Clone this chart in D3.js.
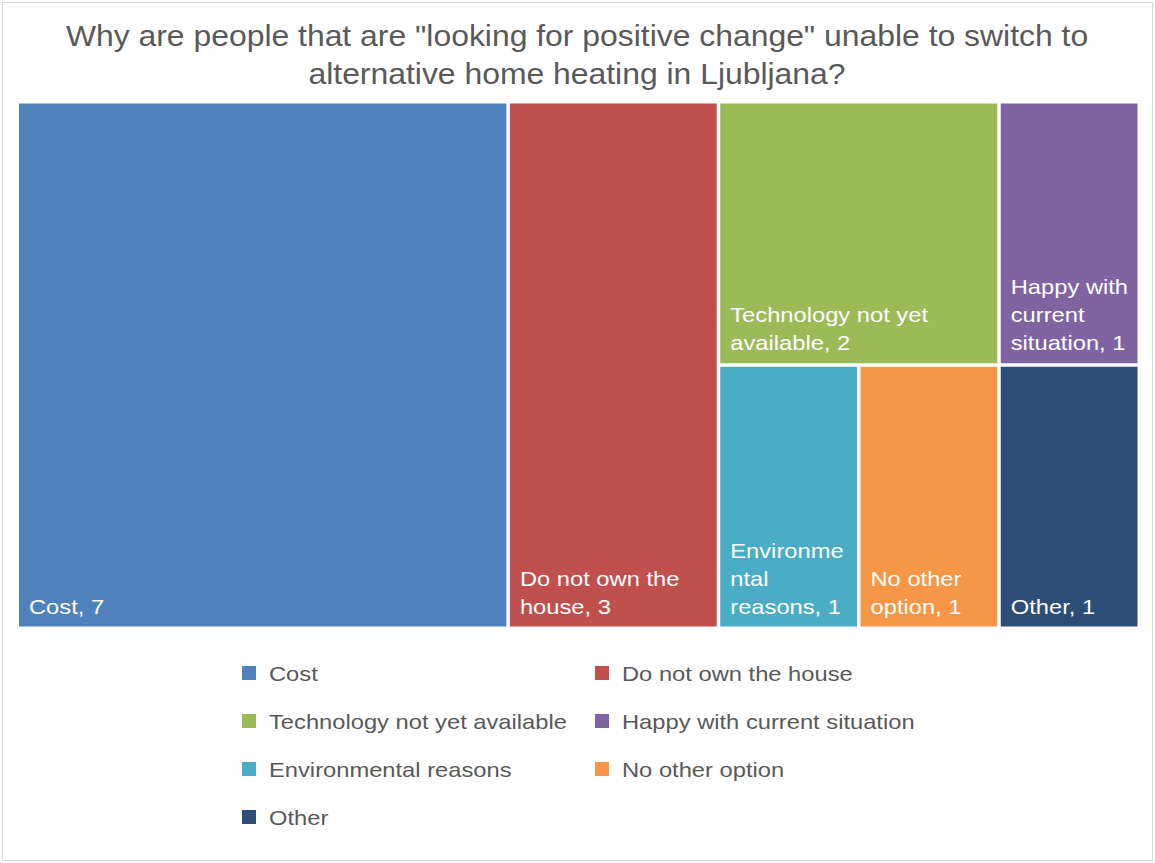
<html>

<head>
    <meta charset="UTF-8">
    <title>Treemap</title>
    <style>
        body {
            margin: 0;
            background: #fff;
        }

        svg text {
            font-family: "Liberation Sans", Arial, sans-serif;
        }

        .title {
            font-size: 29px;
            fill: #595959;
        }

        .tile text {
            font-size: 21px;
            fill: #fff;
        }

        .legend text {
            font-size: 21px;
            fill: #595959;
        }
    </style>
    <script src="https://d3js.org/d3.v7.min.js"></script>
</head>

<body>
    <script type="text/javascript">
        // data
        const categories = ['Cost', 'Do not own the house', 'Technology not yet available',
            'Happy with current situation', 'Environmental reasons', 'No other option', 'Other']
        const values = [7, 3, 2, 1, 1, 1, 1]
        const colors = ['#4F81BD', '#C0504D', '#9BBB59', '#8064A2', '#4BACC6', '#F79646', '#2C4D75']
        // how the tiles are grouped (columns, then rows inside the last column)
        const groups = [[0], [1], [[2, 3], [4, 5, 6]]]
        const titleLines = ['Why are people that are "looking for positive change" unable to switch to',
            'alternative home heating in Ljubljana?']

        const W = 1155, H = 863
        const plot = { x0: 19, y0: 103.5, x1: 1137.5, y1: 626.5 }
        const stretch = 1.13      // text in the original is a bit wider than Arial
        const titleStretch = 1.10

        const svg = d3.select('body').append('svg')
            .attr('width', W)
            .attr('height', H)

        svg.append('rect')
            .attr('x', 2.5).attr('y', 2.5)
            .attr('width', W - 5).attr('height', H - 5)
            .attr('fill', '#fff')
            .attr('stroke', '#d9d9d9')

        svg.append('text')
            .attr('class', 'title')
            .attr('text-anchor', 'middle')
            .attr('transform', 'translate(577,0) scale(' + titleStretch + ',1)')
            .selectAll('tspan')
            .data(titleLines)
            .enter().append('tspan')
            .attr('x', 0)
            .attr('y', (d, i) => 46 + i * 38)
            .text(d => d)

        // build nested hierarchy from groups
        function build(g) {
            if (typeof g === 'number') return { name: categories[g], value: values[g], idx: g }
            return { children: g.map(build) }
        }
        const root = d3.hierarchy(build(groups))
            .sum(d => d.value || 0)

        d3.treemap()
            .size([plot.x1 - plot.x0, plot.y1 - plot.y0])
            .paddingInner(3.5)
            .tile((node, x0, y0, x1, y1) =>
                (node.depth % 2 === 0 ? d3.treemapDice : d3.treemapSlice)(node, x0, y0, x1, y1))
            (root)

        const g = svg.append('g')
            .attr('transform', 'translate(' + plot.x0 + ',' + plot.y0 + ')')

        const leaves = g.selectAll('g.tile')
            .data(root.leaves())
            .enter().append('g')
            .attr('class', 'tile')

        leaves.append('rect')
            .attr('x', d => d.x0)
            .attr('y', d => d.y0)
            .attr('width', d => d.x1 - d.x0)
            .attr('height', d => d.y1 - d.y0)
            .attr('fill', d => colors[d.data.idx])

        // measure + wrap
        const measure = svg.append('text').attr('class', 'tile').style('font-size', '21px')
        function textW(s) {
            measure.text(s)
            return measure.node().getComputedTextLength() * stretch
        }
        function wrap(label, maxW) {
            const words = label.split(' ')
            const lines = []
            let cur = ''
            words.forEach(w => {
                const test = cur ? cur + ' ' + w : w
                if (textW(test) <= maxW) { cur = test; return }
                if (cur) lines.push(cur)
                // break long words by character
                let piece = ''
                for (const ch of w) {
                    if (textW(piece + ch) > maxW && piece) { lines.push(piece); piece = ch }
                    else piece += ch
                }
                cur = piece
            })
            if (cur) lines.push(cur)
            return lines
        }

        leaves.each(function (d) {
            const lines = wrap(d.data.name + ', ' + d.data.value, d.x1 - d.x0 - 14)
            const n = lines.length
            d3.select(this).append('text')
                .attr('transform', 'translate(' + (d.x0 + 10) + ',' + (d.y1 - 13) + ') scale(' + stretch + ',1)')
                .selectAll('tspan')
                .data(lines)
                .enter().append('tspan')
                .attr('x', 0)
                .attr('y', (l, i) => -(n - 1 - i) * 28)
                .text(l => l)
        })
        measure.remove()

        // legend
        const legend = svg.append('g').attr('class', 'legend')
        const items = legend.selectAll('g')
            .data(categories)
            .enter().append('g')
            .attr('transform', (d, i) => 'translate(' + (i % 2 ? 595 : 242) + ',' + (673 + Math.floor(i / 2) * 48) + ')')
        items.append('rect')
            .attr('x', 0).attr('y', -7)
            .attr('width', 14).attr('height', 14)
            .attr('fill', (d, i) => colors[i])
        items.append('text')
            .attr('transform', 'translate(27,7.5) scale(' + stretch + ',1)')
            .text(d => d)
    </script>
</body>

</html>
